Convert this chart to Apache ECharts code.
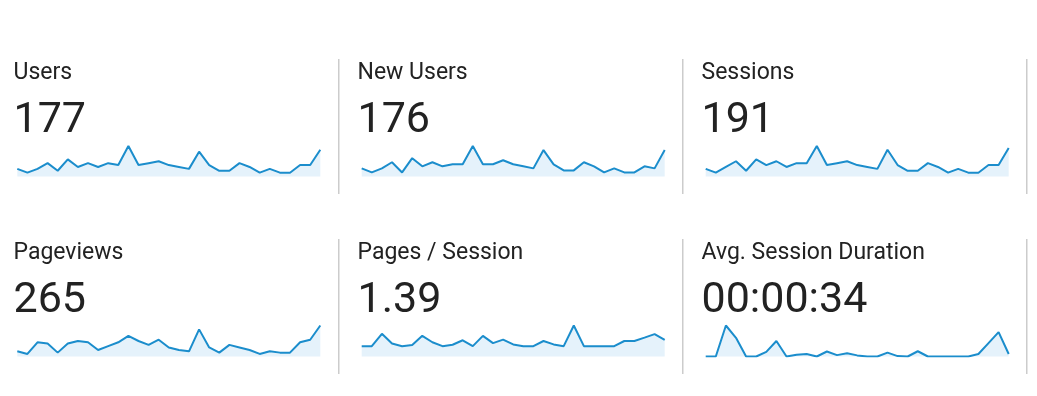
<!DOCTYPE html>
<html>
<head>
<meta charset="utf-8">
<script src="https://cdn.jsdelivr.net/npm/echarts@6/dist/echarts.min.js"></script>
<style>
html,body{margin:0;padding:0;background:#fff;}
#chart{width:1037px;height:396px;}
</style>
</head>
<body>
<div id="chart"></div>
<script>
// ---- data ----
var days = ['1','2','3','4','5','6','7','8','9','10','11','12','13','14','15','16','17','18','19','20','21','22','23','24','25','26','27','28','29','30','31'];
var metricNames = ['Users', 'New Users', 'Sessions', 'Pageviews', 'Pages / Session', 'Avg. Session Duration'];
var metricTotals = ['177', '176', '191', '265', '1.39', '00:00:34'];
var users = [4,2,4,7,3,9,5,7,5,7,6,16,6,7,8,6,5,4,13,6,3,3,7,5,2,4,2,2,6,6,14];
var newUsers = [4,2,4,7,2,9,5,7,5,6,6,15,6,6,8,6,5,4,13,6,3,3,7,5,2,4,2,2,5,4,13];
var sessions = [4,2,5,8,3,9,6,8,5,7,7,16,6,7,8,6,5,4,14,6,3,3,7,5,2,4,2,2,6,6,15];
var pageviews = [4,2,11,10,3,10,12,11,5,8,11,16,12,9,13,7,5,4,21,7,3,9,7,5,2,4,3,3,11,13,24];
var pagesPerSession = [1.00,1.00,2.20,1.25,1.00,1.11,2.00,1.38,1.00,1.14,1.57,1.00,2.00,1.29,1.63,1.17,1.00,1.00,1.50,1.17,1.00,3.00,1.00,1.00,1.00,1.00,1.50,1.50,1.83,2.17,1.60];
var avgDuration = [0,0,224,135,0,0,33,112,0,13,18,0,36,10,23,8,0,0,28,3,0,38,0,0,0,0,0,18,97,176,18];

var seriesData = [users, newUsers, sessions, pageviews, pagesPerSession, avgDuration];

// ---- layout ----
var colX = [13.5, 357.5, 701.5];
var sparkLeft = [17.3, 361.7, 705.7];
var sparkWidth = 303;
var rowGridTop = [146, 325.5];
var rowGridHeight = [30.5, 31];
var rowLabelY = [73.2, 253.2];
var rowValueY = [121.5, 301.5];
var dividerX = [338, 682, 1026];
var rowDivTop = [59, 239];
var dividerH = 135;

var chart = echarts.init(document.getElementById('chart'), null, {renderer: 'canvas'});

var grids = [], xAxes = [], yAxes = [], series = [], graphics = [];
for (var i = 0; i < 6; i++) {
  var r = Math.floor(i / 3), c = i % 3;
  grids.push({left: sparkLeft[c], top: rowGridTop[r], width: sparkWidth, height: rowGridHeight[r], containLabel: false});
  xAxes.push({type: 'category', gridIndex: i, data: days, boundaryGap: false, show: false});
  yAxes.push({type: 'value', gridIndex: i, min: 0, max: 'dataMax', show: false, splitLine: {show: false}});
  series.push({
    type: 'line', xAxisIndex: i, yAxisIndex: i, data: seriesData[i],
    symbol: 'none', smooth: false,
    lineStyle: {color: '#1b8dcc', width: 2},
    areaStyle: {color: '#e5f2fb', opacity: 1},
    silent: true
  });
  graphics.push({type: 'text', x: colX[c], y: rowLabelY[r], style: {text: metricNames[i], font: '23px Roboto', fill: '#222222', verticalAlign: 'middle'}});
  graphics.push({type: 'text', x: colX[c], y: rowValueY[r], style: {text: metricTotals[i], font: '43px Roboto', fill: '#222222', verticalAlign: 'middle'}});
}
for (var r2 = 0; r2 < 2; r2++) {
  for (var d = 0; d < 3; d++) {
    graphics.push({type: 'rect', shape: {x: dividerX[d], y: rowDivTop[r2], width: 1.5, height: dividerH}, style: {fill: '#cccccc'}});
  }
}

chart.setOption({
  animation: false,
  backgroundColor: '#ffffff',
  grid: grids,
  xAxis: xAxes,
  yAxis: yAxes,
  series: series,
  graphic: graphics
});
</script>
</body>
</html>
